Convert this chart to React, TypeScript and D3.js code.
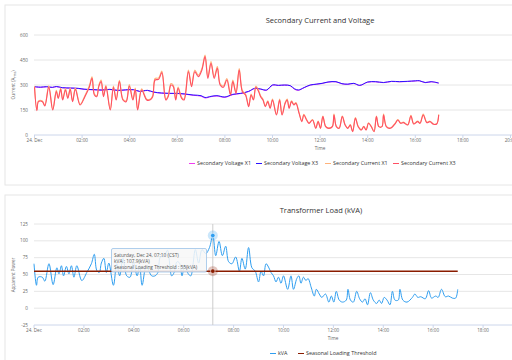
import React from "react";
import * as d3 from "d3";

// ---- data (minutes after 24 Dec 00:00) ----
const minutes = [0,6,10,20,26,36,46,55,60,66,71,78,84,90,96,103,115,127,138,145,151,157,162,168,174,180,191,199,206,214,223,231,239,248,254,260,270,283,291,298,304,313,321,331,337,344,350,356,362,371,377,388,396,404,413,422,430,437,445,453,461,468,476,485,494,500,508,516,524,532,540,546,552,558,564,570,576,582,588,594,600,610,618,624,632,637,642,648,654,659,667,674,679,686,692,701,709,715,721,727,734,742,751,755,761,768,776,783,790,796,802,809,816,824,830,836,842,849,856,862,868,876,880,887,897,910,916,923,930,941,949,956,966,972,980,989,997,1006,1014,1019];
const currentX3 = [286,146,200,200,174,286,150,260,220,274,210,270,220,274,200,274,180,230,286,340,240,230,290,320,230,290,150,286,210,320,210,200,294,210,274,150,270,210,210,230,330,334,374,210,230,300,290,210,280,220,210,380,290,380,350,390,470,340,430,340,400,300,286,330,240,320,250,390,260,240,170,240,210,286,266,230,210,170,200,160,210,120,210,120,190,210,160,200,180,190,130,80,120,90,70,90,40,80,40,110,50,40,50,120,50,40,110,60,40,60,20,100,50,30,50,30,70,50,20,110,50,50,120,50,40,70,90,70,74,60,114,66,80,70,120,74,80,64,66,120];
const currentX1 = [294,150,205,204,178,295,154,268,224,282,214,278,224,282,204,281,184,236,294,349,246,236,298,329,235,298,155,294,215,328,215,205,302,214,281,155,277,215,214,236,339,342,383,216,236,309,298,215,288,226,215,390,298,389,359,399,480,348,440,349,410,308,294,338,246,329,257,398,267,246,175,246,215,293,273,236,215,174,205,164,215,124,216,124,195,215,165,205,184,195,134,83,124,93,72,93,42,83,42,114,52,42,52,125,52,42,114,62,42,62,22,104,52,32,52,32,73,52,22,114,52,52,125,52,42,73,93,72,77,62,118,68,83,72,125,77,83,66,68,125];
const kva = [66,34,46,46,40,66,35,60,51,63,48,62,51,63,46,63,41,53,66,80,56,53,67,74,53,67,34,66,48,74,48,46,68,48,63,34,62,48,48,53,76,77,86,48,53,69,67,48,64,51,48,87,67,87,81,90,107.9,78,99,78,92,69,66,76,55,74,58,90,60,55,39,55,48,66,61,53,48,39,46,37,48,28,48,28,44,48,37,46,41,44,30,18,28,21,16,21,9,18,9,25,12,9,12,28,12,9,25,14,9,14,5,23,12,7,12,7,16,12,5,25,12,12,28,12,9,16,21,16,17,14,26,15,18,16,28,17,18,15,15,28];
const voltMinutes = [0,15,30,45,55,70,90,110,125,150,170,190,210,230,250,265,285,300,320,340,360,380,400,420,430,445,460,480,500,520,540,555,570,585,600,615,630,645,655,665,680,695,710,725,740,760,775,790,805,820,840,860,880,900,920,940,960,970,985,1000,1019];
const voltageX3 = [290,287,290,286,291,284,282,280,275,272,270,274,268,271,272,262,268,258,252,250,250,246,240,236,225,232,236,228,244,250,262,280,276,270,300,298,300,296,278,270,285,300,305,310,318,320,308,305,310,298,318,320,315,322,320,322,325,326,315,320,312];
const voltageX1 = [289,286,289,285,290,283,281,279,274,271,269,273,267,270,271,261,267,257,251,249,249,245,238,233,222,230,234,226,242,249,261,279,275,268,299,297,299,295,275,268,284,299,304,309,317,319,307,304,309,297,317,319,314,321,319,321,324,325,314,319,311];
const thresholdMinutes = [0, 1019];
const thresholdValues = [55, 55];

const topTicksY = [0, 150, 300, 450, 600];
const bottomTicksY = [-25, 0, 25, 50, 75, 100, 125];
const topTicksX = [0, 2, 4, 6, 8, 10, 12, 14, 16, 18, 20];
const bottomTicksX = [0, 2, 4, 6, 8, 10, 12, 14, 16, 18];
const tooltipLines = ["Saturday, Dec 24, 07:10 (CST)", "kVA : 107.9(kVA)", "Seasonal Loading Threshold : 55(kVA)"];
const hoverMinute = 430;

const topLegend = [
  { name: "Secondary Voltage X1", color: "#f03cf0" },
  { name: "Secondary Voltage X3", color: "#2a12ff" },
  { name: "Secondary Current X1", color: "#ffb27a" },
  { name: "Secondary Current X3", color: "#ff5064" },
];
const bottomLegend = [
  { name: "kVA", color: "#2f9ef0" },
  { name: "Seasonal Loading Threshold", color: "#8a1c00" },
];

const FONT = "'Open Sans', sans-serif";
const tickLabel = (h: number) => (h === 0 ? "24. Dec" : `${String(h).padStart(2, "0")}:00`);

export default function App() {
  const W = 512, H = 360;
  const xT = d3.scaleLinear().domain([0, 20.3 * 60]).range([34.5, 34.5 + 20.3 * 23.8]);
  const yT = d3.scaleLinear().domain([0, 600]).range([135, 35]);
  const xB = d3.scaleLinear().domain([0, 19 * 60]).range([34, 34 + 19 * 24.95]);
  const yB = d3.scaleLinear().domain([-25, 125]).range([325, 224]);

  const lineT = (xs: number[], ys: number[]) =>
    d3.line<number>().x((_, i) => xT(xs[i])).y((d) => yT(d)).curve(d3.curveCatmullRom.alpha(0.5))(ys.slice(0, xs.length)) || "";
  const lineB = (xs: number[], ys: number[]) =>
    d3.line<number>().x((_, i) => xB(xs[i])).y((d) => yB(d)).curve(d3.curveCatmullRom.alpha(0.5))(ys.slice(0, xs.length)) || "";

  const hx = xB(hoverMinute);

  return (
    <div style={{ position: "fixed", left: 0, top: 0 }}>
      <svg width={W} height={H} style={{ display: "block", background: "#fff", fontFamily: FONT }}>
        <rect x={5} y={5} width={530} height={180} fill="#fff" stroke="#e6e6e6" />
        <rect x={5} y={195} width={530} height={200} fill="#fff" stroke="#e6e6e6" />

        {/* ---------- top chart ---------- */}
        <text x={320} y={23} textAnchor="middle" fontSize={7.5} fill="#333">Secondary Current and Voltage</text>
        {topTicksY.map((v) => (
          <g key={"ty" + v}>
            {v !== 0 && <line x1={34} x2={512} y1={yT(v)} y2={yT(v)} stroke="#e6e6e6" strokeWidth={1} />}
            <text x={28} y={yT(v) + 1.6} textAnchor="end" fontSize={4.6} fill="#666">{v}</text>
          </g>
        ))}
        <line x1={34} x2={512} y1={yT(0)} y2={yT(0)} stroke="#ccd6eb" />
        {topTicksX.map((h) => (
          <g key={"tx" + h}>
            <line x1={xT(h * 60)} x2={xT(h * 60)} y1={135} y2={138} stroke="#ccd6eb" />
            <text x={xT(h * 60)} y={142} textAnchor="middle" fontSize={4.6} fill="#666">{tickLabel(h)}</text>
          </g>
        ))}
        <text x={320} y={150} textAnchor="middle" fontSize={4.6} fill="#666">Time</text>
        <text transform={`translate(14.5,85) rotate(-90)`} textAnchor="middle" fontSize={4.6} fill="#666">
          Current (A<tspan fontSize={3.2} dy={1}>rms</tspan><tspan dy={-1}>)</tspan>
        </text>
        <path d={lineT(voltMinutes, voltageX1)} fill="none" stroke={topLegend[0].color} strokeWidth={1} />
        <path d={lineT(voltMinutes, voltageX3)} fill="none" stroke={topLegend[1].color} strokeWidth={1} />
        <path d={lineT(minutes, currentX1)} fill="none" stroke={topLegend[2].color} strokeWidth={1.1} />
        <path d={lineT(minutes, currentX3)} fill="none" stroke={topLegend[3].color} strokeWidth={1.1} />
        {topLegend.map((s, i) => {
          const lx = [189, 256, 325, 393][i];
          return (
            <g key={s.name}>
              <line x1={lx} x2={lx + 6} y1={163.5} y2={163.5} stroke={s.color} strokeWidth={1} />
              <text x={lx + 8} y={165.3} fontSize={5.4} fill="#333">{s.name}</text>
            </g>
          );
        })}

        {/* ---------- bottom chart ---------- */}
        <text x={321} y={213} textAnchor="middle" fontSize={7.5} fill="#333">Transformer Load (kVA)</text>
        {bottomTicksY.map((v) => (
          <g key={"by" + v}>
            {v !== -25 && <line x1={34} x2={512} y1={yB(v)} y2={yB(v)} stroke="#e6e6e6" strokeWidth={1} />}
            <text x={28} y={yB(v) + 1.6} textAnchor="end" fontSize={4.6} fill="#666">{v}</text>
          </g>
        ))}
        <line x1={34} x2={512} y1={yB(-25)} y2={yB(-25)} stroke="#ccd6eb" />
        {bottomTicksX.map((h) => (
          <g key={"bx" + h}>
            <line x1={xB(h * 60)} x2={xB(h * 60)} y1={325} y2={328} stroke="#ccd6eb" />
            <text x={xB(h * 60)} y={332} textAnchor="middle" fontSize={4.6} fill="#666">{tickLabel(h)}</text>
          </g>
        ))}
        <text x={333} y={340} textAnchor="middle" fontSize={4.6} fill="#666">Time</text>
        <text transform={`translate(14.5,275) rotate(-90)`} textAnchor="middle" fontSize={4.6} fill="#666">Apparent Power</text>
        <line x1={hx} x2={hx} y1={224} y2={325} stroke="#cccccc" strokeWidth={1} />
        <path d={lineB(minutes, kva)} fill="none" stroke={bottomLegend[0].color} strokeWidth={1} />
        <path
          d={d3.line<number>().x((_, i) => xB(thresholdMinutes[i])).y((d) => yB(d))(thresholdValues) || ""}
          fill="none" stroke={bottomLegend[1].color} strokeWidth={1.5}
        />
        <circle cx={hx} cy={yB(107.9)} r={5} fill={bottomLegend[0].color} opacity={0.25} />
        <circle cx={hx} cy={yB(107.9)} r={2.3} fill={bottomLegend[0].color} stroke="#fff" strokeWidth={0.6} />
        <circle cx={hx} cy={yB(55)} r={5} fill={bottomLegend[1].color} opacity={0.25} />
        <circle cx={hx} cy={yB(55)} r={2.3} fill={bottomLegend[1].color} stroke="#fff" strokeWidth={0.6} />
        <rect x={111.5} y={248.5} width={95} height={23.5} rx={1.5} fill="rgba(247,247,247,0.85)" stroke="#9cc3e8" strokeWidth={0.8} />
        {tooltipLines.map((t, i) => (
          <text key={t} x={114} y={257 + i * 6} fontSize={4.8} fill="#555">{t}</text>
        ))}
        {bottomLegend.map((s, i) => {
          const lx = [270, 298][i];
          return (
            <g key={s.name}>
              <line x1={lx} x2={lx + 6} y1={353.5} y2={353.5} stroke={s.color} strokeWidth={1} />
              <text x={lx + 8} y={355.3} fontSize={5.4} fill="#333">{s.name}</text>
            </g>
          );
        })}
      </svg>
    </div>
  );
}
